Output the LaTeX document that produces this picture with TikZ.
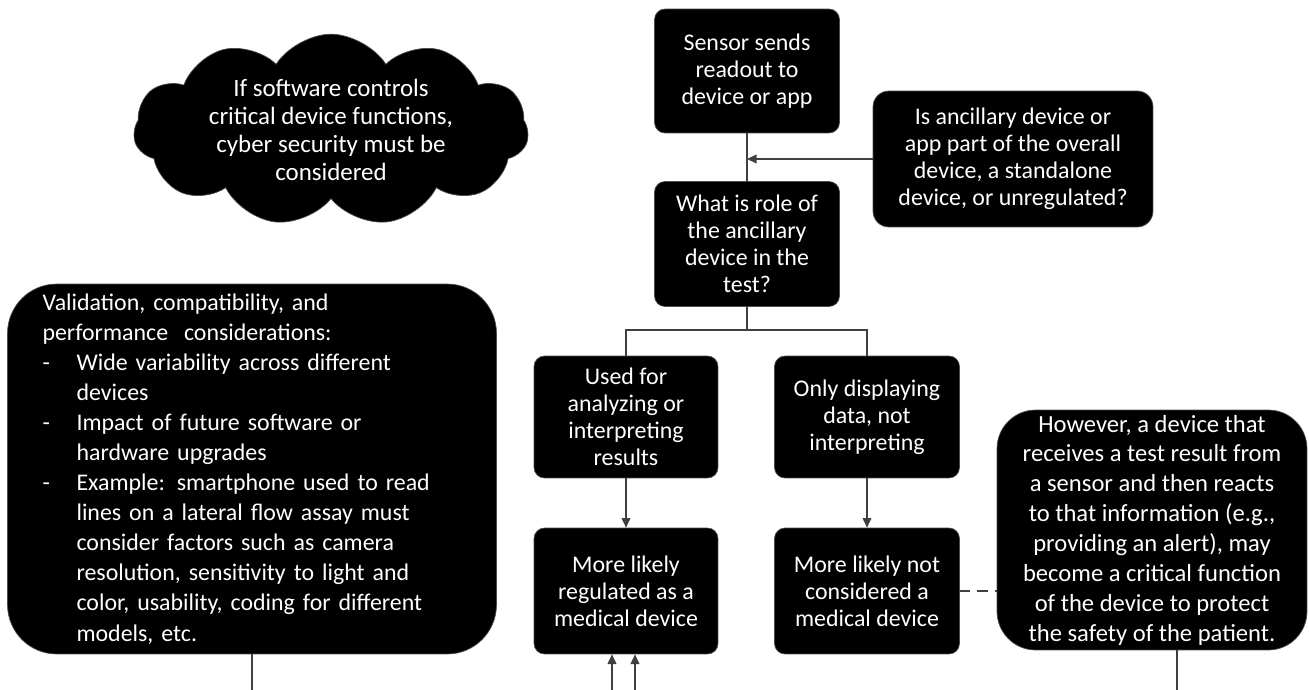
\documentclass[tikz,border=0pt]{standalone}
\usepackage{fontspec}
\setmainfont{Carlito}
\usetikzlibrary{arrows.meta,shapes.symbols}

\begin{document}
\begin{tikzpicture}[
	x=0.02cm, y=-0.02cm,
	b/.style = {rectangle, rounded corners=6pt, draw=black!70, fill=black, text=white, align=center, inner sep=0pt,
		font=\fontsize{13.6pt}{15.3pt}\selectfont},
	l/.style = {draw=black!75, line width=0.8pt},
	r/.style = {l, -{Triangle[length=5.5pt, width=5pt]}}
	]
	\useasboundingbox (0,0) rectangle (1309,690);

	%Nodes
	\node[b, minimum width=3.7cm, minimum height=2.48cm]	(sensor)	at	(747, 71)	{Sensor sends\\readout to\\device or app};
	\node[b, minimum width=5.6cm, minimum height=2.72cm, rounded corners=9pt]	(anc)	at	(1013, 159)	{Is ancillary device or\\app part of the overall\\device, a standalone\\device, or unregulated?};
	\node[b, minimum width=3.7cm, minimum height=2.5cm]	(role)		at	(747, 244)	{What is role of\\the ancillary\\device in the\\test?};

	\node[b, minimum width=3.68cm, minimum height=2.44cm]	(used)	at	(626, 417)	{Used for\\analyzing or\\interpreting\\results};
	\node[b, minimum width=3.7cm, minimum height=2.44cm]	(only)	at	(867, 417)	{Only displaying\\data, not\\interpreting};
	\node[b, minimum width=3.68cm, minimum height=2.52cm]	(reg)	at	(626, 591)	{More likely\\regulated as a\\medical device};
	\node[b, minimum width=3.7cm, minimum height=2.52cm]	(notreg)	at	(867, 591)	{More likely not\\considered a\\medical device};

	\node[b, minimum width=6.2cm, minimum height=4.8cm, rounded corners=22pt,
		font=\fontsize{14pt}{17pt}\selectfont]	(however)	at	(1152, 530)
		{However, a device that\\receives a test result from\\a sensor and then reacts\\to that information (e.g.,\\providing an alert), may\\become a critical function\\of the device to protect\\the safety of the patient.};

	\node[b, minimum width=9.78cm, minimum height=7.4cm, rounded corners=28pt, align=left,
		text width=8.38cm, font=\fontsize{13.6pt}{17.1pt}\selectfont]	(valid)	at	(252, 469)
		{Validation, compatibility, and\\
		performance\ \ considerations:\\
		\makebox[0.68cm][l]{-}Wide variability across different\\
		\hspace*{0.68cm}devices\\
		\makebox[0.68cm][l]{-}Impact of future software or\\
		\hspace*{0.68cm}hardware upgrades\\
		\makebox[0.68cm][l]{-}Example: smartphone used to read\\
		\hspace*{0.68cm}lines on a lateral flow assay must\\
		\hspace*{0.68cm}consider factors such as camera\\
		\hspace*{0.68cm}resolution, sensitivity to light and\\
		\hspace*{0.68cm}color, usability, coding for different\\
		\hspace*{0.68cm}models, etc.};

	\node[cloud, cloud puffs=11, cloud puff arc=115, aspect=2.4, draw=black!70, fill=black, text=white,
		align=center, inner sep=0pt, minimum width=7.9cm, minimum height=3.4cm,
		font=\fontsize{14.2pt}{16pt}\selectfont]	(cyber)	at	(331, 130)
		{If software controls\\critical device functions,\\cyber security must be\\considered};

	\coordinate	(fork)	at	(747, 330);
	\coordinate	(b1)	at	(252, 690);
	\coordinate	(b2)	at	(612, 690);
	\coordinate	(b3)	at	(635, 690);
	\coordinate	(b4)	at	(1177, 690);

	%Lines
	\draw[l]	(sensor)	--	(role);
	\draw[r]	(anc.west)	--	(anc.west -| sensor);
	\draw[l]	(role)	--	(fork)	-|	(used);
	\draw[l]	(fork)	-|	(only);
	\draw[r]	(used)	--	(reg);
	\draw[r]	(only)	--	(notreg);
	\draw[l, dash pattern=on 6pt off 4pt]	(notreg)	--	(notreg -| however.west);
	\draw[l]	(valid.south)	--	(b1);
	\draw[r]	(b2)	--	(b2 |- reg.south);
	\draw[r]	(b3)	--	(b3 |- reg.south);
	\draw[l]	(b4 |- however.south)	--	(b4);
\end{tikzpicture}
\end{document}
